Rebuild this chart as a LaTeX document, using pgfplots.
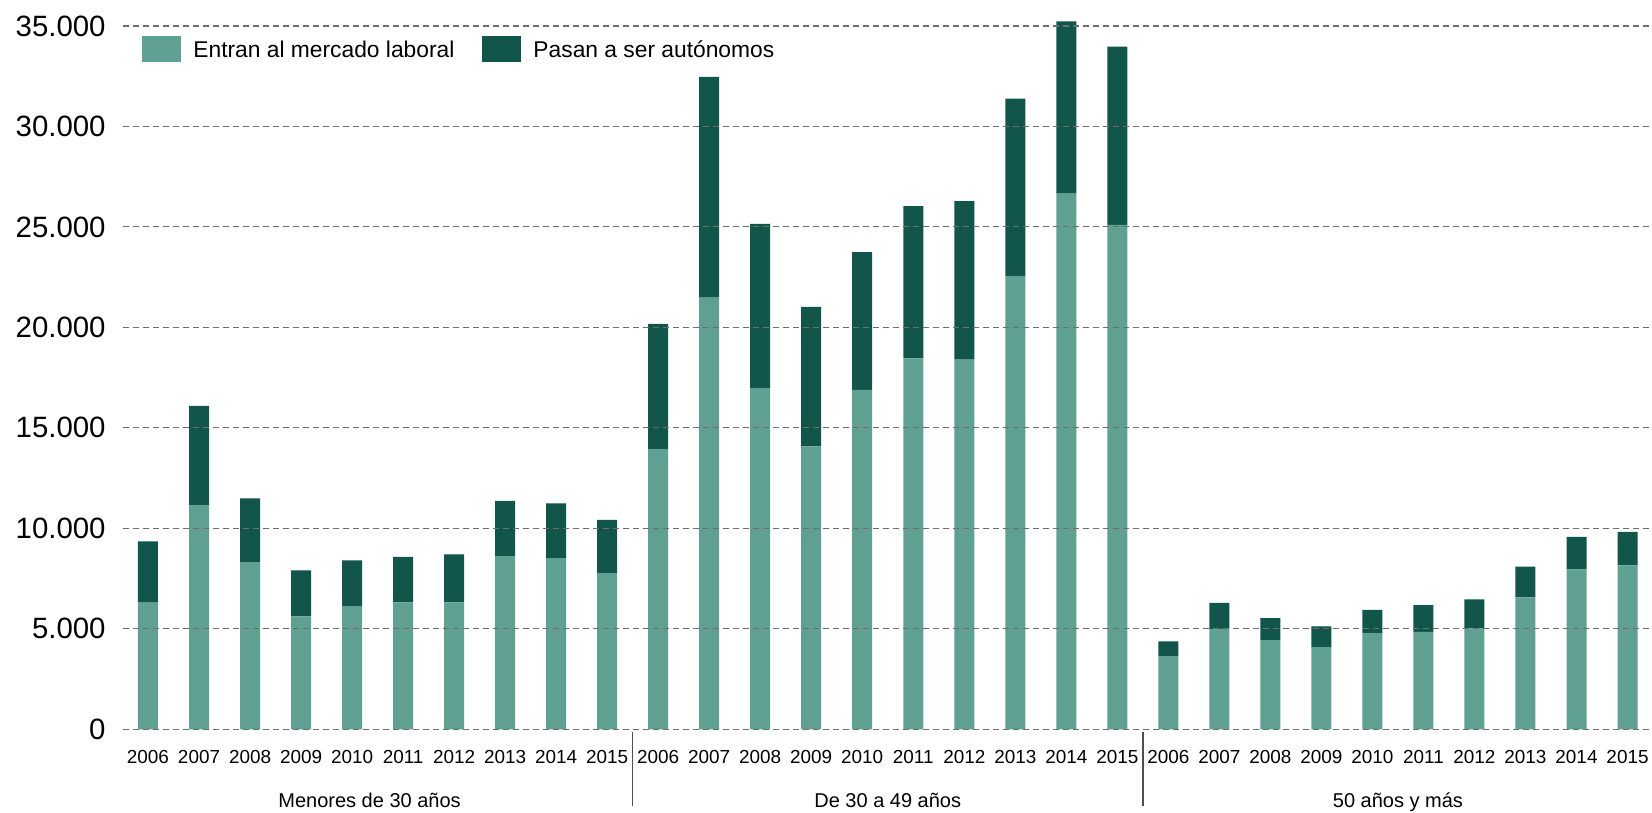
\documentclass[border=0pt]{standalone}
\usepackage{pgfplots}
\pgfplotsset{compat=1.18}
\usepackage{pgfplotstable}
\usepackage{fontspec}
\setmainfont{Liberation Sans}

\definecolor{entran}{HTML}{60A092}
\definecolor{autonomo}{HTML}{12554B}
\definecolor{rejilla}{HTML}{6E6E6E}
\definecolor{separador}{HTML}{505050}

% 0-9: menores de 30, 10-19: de 30 a 49, 20-29: 50 y mas
\pgfplotstableread{
x  entran  autonomos
0  6300  3050
1  11150 4940
2  8320  3170
3  5620  2290
4  6130  2270
5  6310  2270
6  6310  2390
7  8620  2750
8  8520  2720
9  7770  2650
10 13940 6240
11 21480 10980
12 16950 8200
13 14080 6940
14 16890 6860
15 18460 7570
16 18390 7890
17 22520 8860
18 26650 8580
19 25100 8870
20 3640  730
21 5000  1290
22 4440  1090
23 4090  1030
24 4790  1150
25 4850  1330
26 5020  1440
27 6570  1530
28 7960  1610
29 8160  1660
}\datos

\begin{document}
\begin{tikzpicture}
\begin{axis}[
    scale only axis,
    width=764.5pt, height=356.7pt,
    ybar stacked, bar width=10pt,
    clip=false,
    xmin=-0.49, xmax=29.48,
    ymin=0, ymax=35500,
    xtick={0,...,29},
    xticklabels={2006,2007,2008,2009,2010,2011,2012,2013,2014,2015,
                 2006,2007,2008,2009,2010,2011,2012,2013,2014,2015,
                 2006,2007,2008,2009,2010,2011,2012,2013,2014,2015},
    ytick={0,5000,...,35000},
    scaled y ticks=false,
    axis line style={draw=none},
    tick style={draw=none},
    ymajorgrids,
    grid style={rejilla, line width=0.6pt, dash pattern=on 3pt off 2pt},
    axis on top,
    /pgf/number format/1000 sep={.},
    /pgf/number format/assume math mode=true,
    yticklabel style={anchor=east, inner sep=0pt, xshift=-8.5pt,
        font=\fontsize{14.7}{16}\selectfont},
    xticklabel style={anchor=base, inner sep=0pt, yshift=-17pt,
        font=\fontsize{9.45}{11}\selectfont},
    every axis plot post/.append style={
        legend image code/.code={\fill[##1] (0pt,-6.5pt) rectangle (19.5pt,6.5pt);}},
    legend columns=2,
    legend style={draw=none, fill=none, inner sep=0pt,
        at={(rel axis cs:0,1)}, anchor=north west, xshift=9.5pt, yshift=-10pt,
        font=\fontsize{11.4}{13}\selectfont,
        nodes={inner sep=0pt, text height=8.3pt, text depth=0pt},
        /tikz/every odd column/.append style={column sep=6pt},
        /tikz/every even column/.append style={column sep=14pt}},
]
\addplot[fill=entran, draw=none] table[x=x, y=entran] {\datos};
\addlegendentry{Entran al mercado laboral}
\addplot[fill=autonomo, draw=none] table[x=x, y=autonomos] {\datos};
\addlegendentry{Pasan a ser autónomos}

% separadores y nombres de los grupos
\draw[separador, line width=0.75pt] (axis cs:9.5,0) ++(0pt,-1.5pt) -- ++(0pt,-37pt);
\draw[separador, line width=0.75pt] (axis cs:19.5,0) ++(0pt,-1.5pt) -- ++(0pt,-37pt);
\node[anchor=base, inner sep=0pt, yshift=-39pt, xshift=-4pt, font=\fontsize{10}{12}\selectfont]
    at (axis cs:4.5,0) {Menores de 30 años};
\node[anchor=base, inner sep=0pt, yshift=-39pt, font=\fontsize{10}{12}\selectfont]
    at (axis cs:14.5,0) {De 30 a 49 años};
\node[anchor=base, inner sep=0pt, yshift=-39pt, font=\fontsize{10}{12}\selectfont]
    at (axis cs:24.5,0) {50 años y más};

\coordinate (ll) at (rel axis cs:0,0);
\coordinate (lr) at (rel axis cs:1,0);
\end{axis}
\pgfresetboundingbox
\path ([xshift=-61.5pt, yshift=-41.85pt]ll) rectangle ([yshift=364.65pt]lr);
\end{tikzpicture}
\end{document}
